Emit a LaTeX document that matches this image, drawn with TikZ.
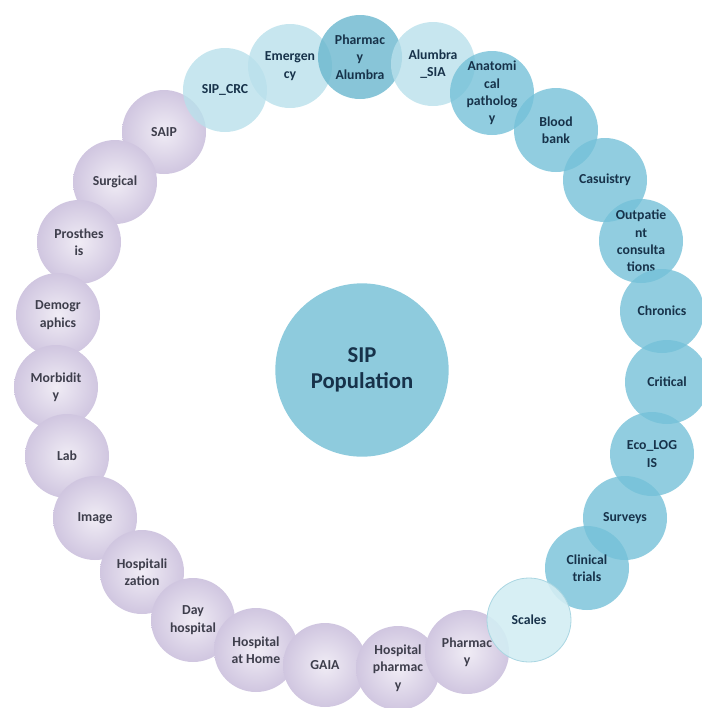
\documentclass[tikz,border=0pt]{standalone}
\usepackage{fontspec}
\setmainfont{Carlito}
\definecolor{bluemid}{HTML}{75C1D8}
\definecolor{bluedark}{HTML}{6AB7CE}
\definecolor{bluelight}{HTML}{B9E0EB}
\definecolor{scalesfill}{HTML}{D3EDF3}
\definecolor{scalesline}{HTML}{A9D6E2}
\definecolor{purpin}{HTML}{F0ECF5}
\definecolor{purpout}{HTML}{D0C6E0}
\definecolor{navytext}{HTML}{17324A}
\definecolor{graytext}{HTML}{3E3E4C}
\definecolor{centerfill}{HTML}{8ECBDD}
\begin{document}
\begin{tikzpicture}[x=0.75pt,y=-0.75pt,
  bubble/.style={circle,minimum size=63pt,inner sep=0pt,align=center,
    font=\bfseries\fontsize{10.3}{13}\selectfont},
  purp/.style={bubble,shade,inner color=purpin,outer color=purpout,text=graytext},
  bmid/.style={bubble,fill=bluemid,fill opacity=0.8,text opacity=1,text=navytext},
  blight/.style={bubble,fill=bluelight,fill opacity=0.8,text opacity=1,text=navytext},
  bdark/.style={bubble,fill=bluedark,fill opacity=0.8,text opacity=1,text=navytext},
  scalesbox/.style={bubble,fill=scalesfill,fill opacity=0.9,text opacity=1,draw=scalesline,line width=0.6pt,text=navytext},
  centerbox/.style={circle,minimum size=130pt,inner sep=0pt,align=center,fill=centerfill,text=navytext,
    font=\bfseries\fontsize{17}{20}\selectfont}]
\useasboundingbox (0,0) rectangle (701,708);
% purple ring
\node[purp] (saip) at (164,132) {SAIP};
\node[purp] (surg) at (115,182) {Surgical};
\node[purp] (pros) at (79,242) {Prosthes\\is};
\node[purp] (demo) at (58,315) {Demogr\\aphics};
\node[purp] (morb) at (56,387) {Morbidit\\y};
\node[purp] (lab) at (67,456) {Lab};
\node[purp] (img) at (95,518) {Image};
\node[purp] (hosp) at (142,572) {Hospitali\\zation};
\node[purp] (day) at (193,620) {Day\\hospital};
\node[purp] (home) at (256,650) {Hospital\\at Home};
\node[purp] (gaia) at (325,665) {GAIA};
\node[purp] (hpharm) at (398,668) {Hospital\\pharmac\\y};
\node[purp] (pharm) at (467,652) {Pharmac\\y};
% blue ring
\node[blight] (crc) at (225,90) {SIP\_CRC};
\node[blight] (emerg) at (290,66) {Emergen\\cy};
\node[bdark] (palum) at (360,57) {Pharmac\\y\\Alumbra};
\node[blight] (asia) at (433,64) {Alumbra\\\_SIA};
\node[bmid] (anat) at (492,93) {Anatomi\\cal\\patholog\\y};
\node[bmid] (blood) at (556,130) {Blood\\bank};
\node[bmid] (casu) at (605,180) {Casuistry};
\node[bmid] (outp) at (641,241) {Outpatie\\nt\\consulta\\tions};
\node[bmid] (chron) at (662,311) {Chronics};
\node[bmid] (crit) at (667,382) {Critical};
\node[bmid] (eco) at (652,454) {Eco\_LOG\\IS};
\node[bmid] (surv) at (625,518) {Surveys};
\node[bmid] (clin) at (587,568) {Clinical\\trials};
\node[scalesbox] (scales) at (529,620) {Scales};
% centre
\node[centerbox] (sip) at (362,370) {SIP\\Population};
\end{tikzpicture}
\end{document}
